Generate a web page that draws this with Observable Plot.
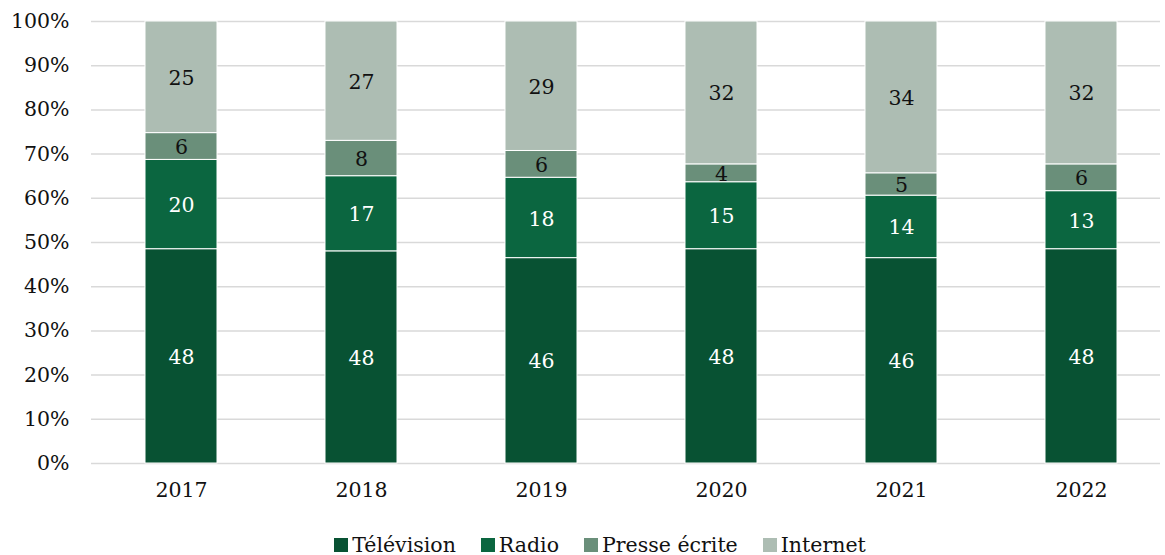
<!DOCTYPE html>
<html>
<head>
<meta charset="utf-8">
<script src="https://cdn.jsdelivr.net/npm/d3@7"></script>
<script src="https://cdn.jsdelivr.net/npm/@observablehq/plot@0.6"></script>
<style>
  html, body { margin: 0; padding: 0; background: #fff; }
  body { width: 1165px; height: 555px; overflow: hidden; font-family: "DejaVu Serif", serif; }
  #legend { display: flex; justify-content: center; align-items: center; gap: 25px; margin-top: 23px; font-size: 20.5px; color: #111; padding-left: 35px; }
  #legend .item { display: flex; align-items: center; gap: 4px; }
  #legend .sw { width: 14px; height: 14px; display: inline-block; }
</style>
</head>
<body>
<div id="chart"></div>
<div id="legend"></div>
<script>
const years = ["2017", "2018", "2019", "2020", "2021", "2022"];
const series = ["Télévision", "Radio", "Presse écrite", "Internet"];
const television = [48, 48, 46, 48, 46, 48];
const radio = [20, 17, 18, 15, 14, 13];
const presse = [6, 8, 6, 4, 5, 6];
const internet = [25, 27, 29, 32, 34, 32];
const colors = ["#085233", "#0b6640", "#6a8f7a", "#adbdb3"];
const labelColors = ["#ffffff", "#ffffff", "#111111", "#111111"];
const yTicks = [0, 0.1, 0.2, 0.3, 0.4, 0.5, 0.6, 0.7, 0.8, 0.9, 1];

const values = [television, radio, presse, internet];
const data = [];
years.forEach((yr, i) => {
  series.forEach((s, j) => {
    data.push({ year: yr, series: s, value: values[j][i], lc: labelColors[j] });
  });
});

const font = "DejaVu Serif, serif";
const chart = Plot.plot({
  width: 1165,
  height: 510,
  marginTop: 21,
  marginBottom: 47,
  marginLeft: 91,
  marginRight: 5,
  style: { fontFamily: font, fontSize: "20.5px", color: "#111", background: "#fff" },
  x: { domain: years, range: [91, 1171], paddingInner: 0.6, paddingOuter: 0.3, label: null, tickSize: 0, tickPadding: 19 },
  y: { domain: [0, 1], label: null, ticks: yTicks, tickFormat: d3.format(".0%"), tickSize: 0, tickPadding: 22 },
  color: { domain: series, range: colors },
  marks: [
    Plot.ruleY(yTicks, { stroke: "#d9d9d9", strokeWidth: 1.5 }),
    Plot.barY(data, Plot.stackY({ offset: "normalize", order: null }, {
      x: "year", y: "value", z: "series", fill: "series", stroke: "#fff", strokeWidth: 1
    })),
    Plot.text(data, Plot.stackY({ offset: "normalize", order: null }, {
      x: "year", y: "value", z: "series", text: d => String(d.value), fill: "lc", fontSize: 20.5, dy: 1
    }))
  ]
});
document.getElementById("chart").appendChild(chart);

const legend = document.getElementById("legend");
series.forEach((s, j) => {
  const item = document.createElement("div");
  item.className = "item";
  const sw = document.createElement("span");
  sw.className = "sw";
  sw.style.background = colors[j];
  const t = document.createElement("span");
  t.textContent = s;
  item.appendChild(sw);
  item.appendChild(t);
  legend.appendChild(item);
});
</script>
</body>
</html>
